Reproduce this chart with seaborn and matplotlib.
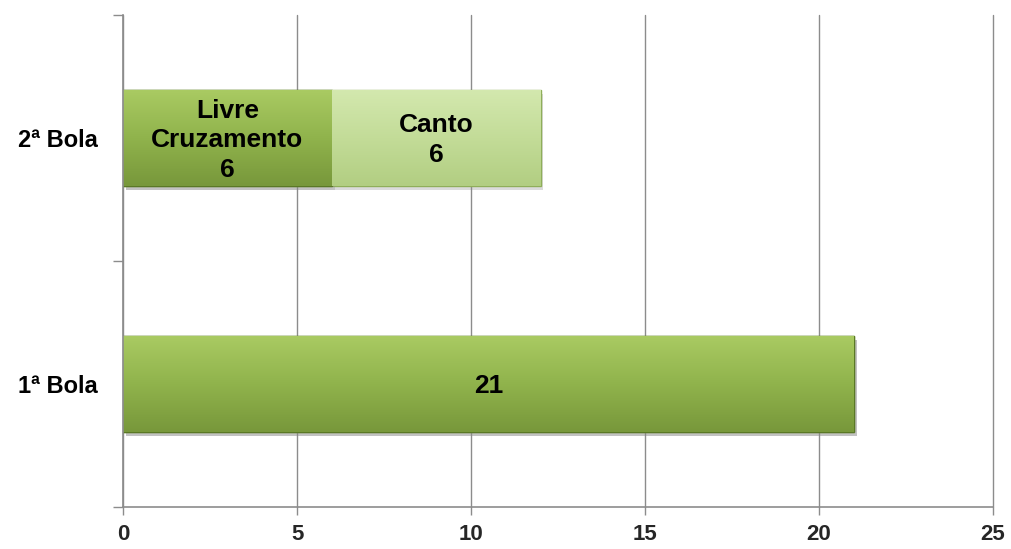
import numpy as np
import matplotlib
matplotlib.use("Agg")
import matplotlib.pyplot as plt
import matplotlib.patheffects as pe
from matplotlib.colors import to_rgb
import seaborn as sns

# ---- data ----
categories = ["2ª Bola", "1ª Bola"]
livre_cruzamento = [6, 21]   # first segment (1ª Bola has a single segment of 21)
canto = [6, 0]               # second segment
seg1_labels = ["Livre\nCruzamento\n6", "21"]
seg2_labels = ["Canto\n6", ""]
x_ticks = [0, 5, 10, 15, 20, 25]

totals = [a + b for a, b in zip(livre_cruzamento, canto)]

sns.set_theme(style="white")
plt.rcParams["font.family"] = ["Liberation Sans", "DejaVu Sans"]

fig = plt.figure(figsize=(10.11, 5.49), dpi=100)
ax = fig.add_axes([0.1217, 0.0765, 0.9822 - 0.1217, 0.973 - 0.0765])

light = "#C2DC97"
medium = "#8DB04A"

sns.barplot(x=totals, y=categories, orient="h", color=light, width=0.39,
            saturation=1, ax=ax, edgecolor="#8FAE5A", linewidth=1.0)
n_light = len(ax.patches)
sns.barplot(x=livre_cruzamento, y=categories, orient="h", color=medium, width=0.39,
            saturation=1, ax=ax, edgecolor="#5A7826", linewidth=1.0)

# gradient shading clipped to each bar
def grad(top, mid, bot, n=64):
    t = np.linspace(0, 1, n)[:, None]
    top, mid, bot = map(lambda c: np.array(to_rgb(c)), (top, mid, bot))
    out = np.where(t < 0.5, top + (mid - top) * (t / 0.5), mid + (bot - mid) * ((t - 0.5) / 0.5))
    return out.reshape(n, 1, 3)

for i, p in enumerate(list(ax.patches)):
    x0, y0, w, h = p.get_x(), p.get_y(), p.get_width(), p.get_height()
    if w <= 0:
        continue
    if i < n_light:
        g = grad("#D3E8AE", "#C3DC98", "#B2CE82")
    else:
        g = grad("#A9CA62", "#90B34C", "#78983B")
    p.set_path_effects([pe.SimplePatchShadow(offset=(2, -3), shadow_rgbFace="#8a8a8a", alpha=0.3), pe.Normal()])
    im = ax.imshow(g, extent=(x0, x0 + w, y0 + h, y0), origin="upper", aspect="auto",
                   zorder=p.get_zorder() + 0.01, interpolation="bilinear")
    im.set_clip_path(p)

# labels
for i in range(len(categories)):
    ax.text(livre_cruzamento[i] / 2, i + 0.01, seg1_labels[i], ha="center", va="center",
            fontsize=19, fontweight="bold", color="black", zorder=10, linespacing=1.3)
    if canto[i] > 0:
        ax.text(livre_cruzamento[i] + canto[i] / 2, i + 0.01, seg2_labels[i], ha="center", va="center",
                fontsize=19, fontweight="bold", color="black", zorder=10, linespacing=1.3)

ax.set_xlim(0, 25)
ax.set_ylim(1.5, -0.5)
ax.set_xticks(x_ticks)
ax.set_xticklabels([str(t) for t in x_ticks], fontsize=16, fontweight="bold")
ax.set_yticks(range(len(categories)))
ax.set_yticklabels(categories, fontsize=17, fontweight="bold")
ax.set_yticks([-0.5, 0.5, 1.5], minor=True)
ax.set_xlabel("")
ax.set_ylabel("")

ax.grid(axis="x", color="#8c8c8c", linewidth=1.0)
ax.set_axisbelow(True)
for line in ax.get_xgridlines():
    line.set_clip_on(False)
for s in ["top", "right"]:
    ax.spines[s].set_visible(False)
for s in ["left", "bottom"]:
    ax.spines[s].set_visible(True)
    ax.spines[s].set_color("#8c8c8c")
    ax.spines[s].set_linewidth(1.2)

ax.tick_params(axis="y", which="major", length=0, pad=18, colors="black")
ax.tick_params(axis="y", which="minor", left=True, length=7, width=1, color="#8c8c8c")
ax.tick_params(axis="x", which="major", bottom=True, length=6, width=1, color="#8c8c8c", pad=6)

fig.savefig("out.png", dpi=100)
